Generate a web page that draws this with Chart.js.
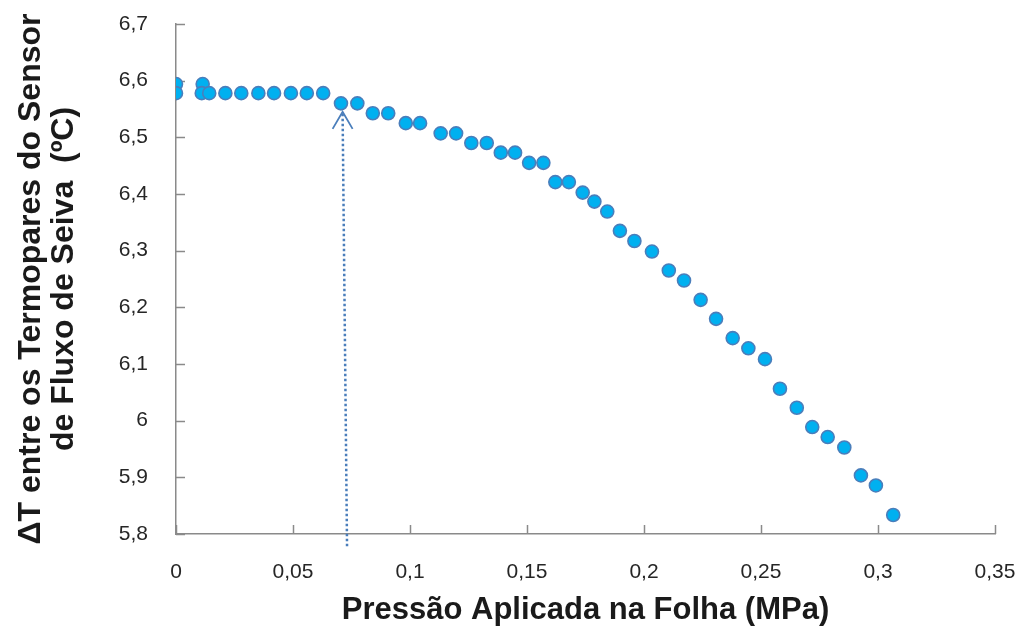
<!DOCTYPE html>
<html>
<head>
<meta charset="utf-8">
<script src="https://cdn.jsdelivr.net/npm/chart.js@4/dist/chart.umd.min.js"></script>
<style>
  html, body { margin: 0; padding: 0; background: #ffffff; }
  #wrap { width: 1024px; height: 628px; position: relative; }
</style>
</head>
<body>
<div id="wrap"><canvas id="chart"></canvas></div>
<script>
// Applied leaf pressure (MPa)
const pressure = [
  0, 0, 0.0114, 0.011, 0.0142, 0.0211, 0.0279, 0.0352, 0.0419, 0.0491,
  0.0559, 0.0629, 0.0705, 0.0775, 0.0841, 0.0907, 0.0982, 0.1043, 0.1131, 0.1197,
  0.1262, 0.1328, 0.1388, 0.1449, 0.1509, 0.1570, 0.1621, 0.1679, 0.1738, 0.1788,
  0.1843, 0.1897, 0.1959, 0.2034, 0.2106, 0.2171, 0.2242, 0.2308, 0.2379, 0.2446,
  0.2517, 0.2581, 0.2653, 0.2719, 0.2785, 0.2856, 0.2927, 0.2991, 0.3065
];

// Temperature difference between the sap-flow sensor thermocouples (ºC)
const deltaT = [
  6.594, 6.578, 6.594, 6.578, 6.578, 6.578, 6.578, 6.578, 6.578, 6.578,
  6.578, 6.578, 6.560, 6.560, 6.5425, 6.5425, 6.525, 6.525, 6.507, 6.507,
  6.490, 6.490, 6.473, 6.473, 6.455, 6.455, 6.421, 6.421, 6.4025, 6.3866,
  6.369, 6.335, 6.317, 6.2984, 6.265, 6.2473, 6.2132, 6.1797, 6.1457, 6.1277,
  6.1086, 6.0563, 6.0228, 5.9887, 5.9711, 5.9527, 5.9034, 5.8857, 5.8335
];

// Axis ticks and their labels
const xTicks = [0, 0.05, 0.1, 0.15, 0.2, 0.25, 0.3, 0.35];
const xTickLabels = ['0', '0,05', '0,1', '0,15', '0,2', '0,25', '0,3', '0,35'];
const yTicks = [5.8, 5.9, 6, 6.1, 6.2, 6.3, 6.4, 6.5, 6.6, 6.7];
const yTickLabels = ['5,8', '5,9', '6', '6,1', '6,2', '6,3', '6,4', '6,5', '6,6', '6,7'];

// Marker arrow: [tip, tail] in data units
const arrowX = [0.0712, 0.0731];
const arrowY = [6.545, 5.776];

const AXIS_COLOR = '#8a8a8a';
const ARROW_COLOR = '#4a7ebb';

// Short tick marks pointing into the plot area, plus the dotted arrow
const annotations = {
  id: 'annotations',
  beforeDatasetsDraw(chart) {
    const { ctx, scales: { x, y } } = chart;
    ctx.save();
    ctx.strokeStyle = AXIS_COLOR;
    ctx.lineWidth = 1.5;
    ctx.beginPath();
    yTicks.forEach(v => {
      const py = Math.round(y.getPixelForValue(v)) + 0.5;
      ctx.moveTo(x.left, py);
      ctx.lineTo(x.left + 9, py);
    });
    xTicks.forEach(v => {
      const px = Math.round(x.getPixelForValue(v)) + 0.5;
      ctx.moveTo(px, y.bottom);
      ctx.lineTo(px, y.bottom - 9);
    });
    ctx.stroke();

    const tx = x.getPixelForValue(arrowX[0]);
    const ty = y.getPixelForValue(arrowY[0]);
    const bx = x.getPixelForValue(arrowX[1]);
    const by = y.getPixelForValue(arrowY[1]);
    ctx.strokeStyle = ARROW_COLOR;
    ctx.lineWidth = 2.5;
    ctx.setLineDash([2.5, 2.5]);
    ctx.beginPath();
    ctx.moveTo(tx, ty + 2);
    ctx.lineTo(bx, by);
    ctx.stroke();
    ctx.setLineDash([]);
    ctx.lineWidth = 1.8;
    ctx.beginPath();
    ctx.moveTo(tx - 10, ty + 17);
    ctx.lineTo(tx, ty);
    ctx.lineTo(tx + 10, ty + 17);
    ctx.stroke();
    ctx.restore();
  }
};

new Chart(document.getElementById('chart'), {
  type: 'scatter',
  data: {
    datasets: [{
      data: pressure.map((p, i) => ({ x: p, y: deltaT[i] })),
      pointRadius: 6.5,
      pointHoverRadius: 6.5,
      pointBackgroundColor: '#00b0f0',
      pointBorderColor: '#4a7ebb',
      pointBorderWidth: 1.6
    }]
  },
  options: {
    responsive: true,
    maintainAspectRatio: false,
    animation: false,
    events: [],
    layout: { autoPadding: false, padding: { left: 0, right: 29, top: 24, bottom: 0 } },
    plugins: { legend: { display: false }, tooltip: { enabled: false } },
    scales: {
      x: {
        type: 'linear',
        min: 0,
        max: 0.35,
        afterFit: s => {
          s.height = 94;
          s.paddingLeft = 0; s.paddingRight = 0; s.paddingTop = 0; s.paddingBottom = 0;
        },
        afterBuildTicks: s => { s.ticks = xTicks.map(v => ({ value: v })); },
        grid: { drawOnChartArea: false, drawTicks: false },
        border: { display: true, color: AXIS_COLOR, width: 1.5 },
        ticks: {
          padding: 26,
          color: '#262626',
          font: { family: 'Liberation Sans', size: 21 },
          callback: (v, i) => xTickLabels[i]
        },
        title: {
          display: true,
          text: 'Pressão Aplicada na Folha (MPa)',
          color: '#1a1a1a',
          font: { family: 'Liberation Sans', size: 31, weight: 'bold', lineHeight: 1.1 },
          padding: { top: 0, bottom: 0 }
        }
      },
      y: {
        type: 'linear',
        min: 5.8,
        max: 6.7,
        afterFit: s => {
          s.width = 176;
          s.paddingLeft = 0; s.paddingRight = 0; s.paddingTop = 0; s.paddingBottom = 0;
        },
        afterBuildTicks: s => { s.ticks = yTicks.map(v => ({ value: v })); },
        grid: { drawOnChartArea: false, drawTicks: false },
        border: { display: true, color: AXIS_COLOR, width: 1.5 },
        ticks: {
          padding: 28,
          color: '#262626',
          font: { family: 'Liberation Sans', size: 21 },
          callback: (v, i) => yTickLabels[i]
        },
        title: {
          display: true,
          text: ['ΔT entre os Termopares do Sensor', 'de Fluxo de Seiva  (ºC)'],
          color: '#1a1a1a',
          font: { family: 'Liberation Sans', size: 32, weight: 'bold', lineHeight: 1.03 },
          padding: { top: 15, bottom: 0 }
        }
      }
    }
  },
  plugins: [annotations]
});
</script>
</body>
</html>
